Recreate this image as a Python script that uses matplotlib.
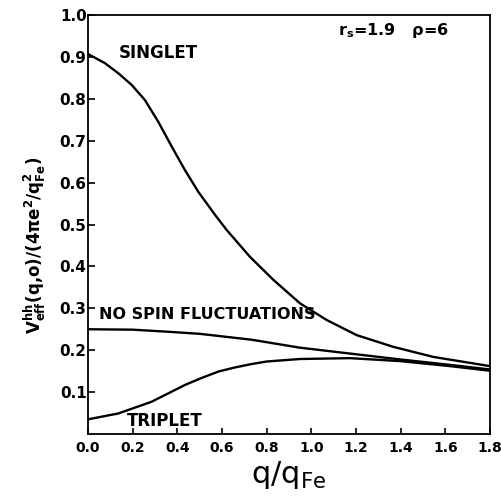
import matplotlib.pyplot as plt

# values
q_singlet = [0.0, 0.076, 0.136, 0.196, 0.255, 0.315, 0.375, 0.434, 0.494, 0.569, 0.621,
             0.725, 0.830, 0.949, 1.069, 1.203, 1.367, 1.546, 1.8]
singlet = [0.907, 0.885, 0.861, 0.833, 0.797, 0.745, 0.686, 0.630, 0.578, 0.523, 0.487,
           0.423, 0.368, 0.312, 0.272, 0.236, 0.208, 0.184, 0.162]

q_nospin = [0.0, 0.2, 0.36, 0.502, 0.733, 0.949, 1.173, 1.397, 1.621, 1.8]
no_spin = [0.250, 0.249, 0.244, 0.239, 0.225, 0.206, 0.192, 0.178, 0.165, 0.154]

q_triplet = [0.0, 0.136, 0.285, 0.434, 0.510, 0.584, 0.651, 0.733, 0.80, 0.949, 1.173,
             1.397, 1.621, 1.8]
triplet = [0.035, 0.049, 0.077, 0.117, 0.134, 0.149, 0.158, 0.167, 0.173, 0.179, 0.181,
           0.174, 0.162, 0.151]

xticks = [0.0, 0.2, 0.4, 0.6, 0.8, 1.0, 1.2, 1.4, 1.6, 1.8]
xlabels = ['0.0', '0.2', '0.4', '0.6', '0.8', '1.0', '1.2', '1.4', '1.6', '1.8']
yticks = [0.1, 0.2, 0.3, 0.4, 0.5, 0.6, 0.7, 0.8, 0.9, 1.0]
ylabels = ['0.1', '0.2', '0.3', '0.4', '0.5', '0.6', '0.7', '0.8', '0.9', '1.0']

#%%

fig = plt.figure(figsize=(5.01, 5.04), dpi=100)
ax = fig.add_axes([0.1756, 0.1389, 0.8024, 0.8313])

ax.plot(q_singlet, singlet, color='black', lw=1.7)
ax.plot(q_nospin, no_spin, color='black', lw=1.7)
ax.plot(q_triplet, triplet, color='black', lw=1.7)

ax.set_xlim(0, 1.8)
ax.set_ylim(0, 1.0)
ax.set_xticks(xticks)
ax.set_xticklabels(xlabels, fontsize=10, fontweight='bold')
ax.set_yticks(yticks)
ax.set_yticklabels(ylabels, fontsize=11, fontweight='bold')
ax.tick_params(axis='x', direction='in', length=4, width=1.2, pad=5)
ax.tick_params(axis='y', direction='in', length=5, width=1.2, pad=1)
for s in ax.spines.values():
    s.set_linewidth(1.3)

ax.text(0.14, 0.91, 'SINGLET', fontsize=12, fontweight='bold', va='center')
ax.text(0.05, 0.286, 'NO SPIN FLUCTUATIONS', fontsize=11.5, fontweight='bold', va='center')
ax.text(0.175, 0.03, 'TRIPLET', fontsize=12, fontweight='bold', va='center')
ax.text(1.12, 0.964, r'$\mathbf{r_s}$=1.9   ρ=6', fontsize=11.5, fontweight='bold', va='center')

ax.set_xlabel(r'q/q$_{\mathrm{Fe}}$', fontsize=22, labelpad=3)
ax.set_ylabel(r'$\mathbf{V^{hh}_{eff}}$(q,o)/(4$\mathbf{\pi}$e$^{\mathbf{2}}$/q$^{\mathbf{2}}_{\mathbf{Fe}}$)',
              fontsize=12, fontweight='bold')
ax.yaxis.set_label_coords(-0.10, 0.45)

fig.savefig('out.png', dpi=100)
